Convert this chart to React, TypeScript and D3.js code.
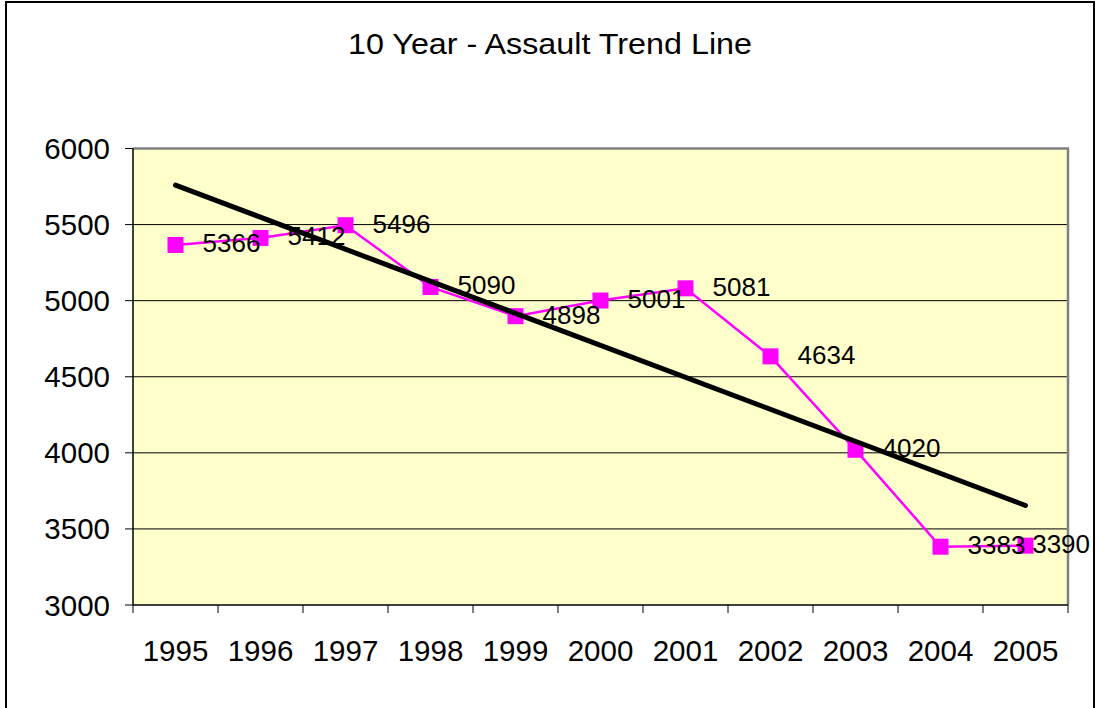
import React from "react";
import * as d3 from "d3";

const years = ["1995", "1996", "1997", "1998", "1999", "2000", "2001", "2002", "2003", "2004", "2005"];
const assaults = [5366, 5412, 5496, 5090, 4898, 5001, 5081, 4634, 4020, 3383, 3390];
const trendEnds = [5759, 3654];
const yTicks = [3000, 3500, 4000, 4500, 5000, 5500, 6000];
const title = "10 Year - Assault Trend Line";

const W = 1099;
const H = 708;
const plot = { left: 133, top: 148.5, right: 1068, bottom: 605 };
const FONT = "'Liberation Sans', Arial, sans-serif";

export default function App() {
  const x = d3.scaleBand<string>().domain(years).range([plot.left, plot.right]).paddingInner(0).paddingOuter(0);
  const y = d3.scaleLinear().domain([3000, 6000]).range([plot.bottom, plot.top]);
  const cx = (yr: string) => (x(yr) as number) + x.bandwidth() / 2;

  const line = d3
    .line<number>()
    .x((_, i) => cx(years[i]))
    .y((d) => y(d));

  const trendPts: [number, number][] = [
    [cx(years[0]), y(trendEnds[0])],
    [cx(years[years.length - 1]), y(trendEnds[1])],
  ];

  const labelFont = 26;
  const labelMaxRight = 1090;
  const boundaries = years.map((yr) => x(yr) as number).concat([plot.right]);
  const m = 16;

  return (
    <svg width={W} height={H} style={{ position: "absolute", left: 0, top: 0, display: "block" }} fontFamily={FONT}>
      <rect x={0} y={0} width={W} height={H} fill="#fff" />
      <rect x={6} y={2} width={1088} height={H + 20} fill="#fff" stroke="#000" strokeWidth={2} />
      <text x={550} y={54} textAnchor="middle" fontSize={30} textLength={404} lengthAdjust="spacingAndGlyphs" fill="#000">
        {title}
      </text>

      {/* plot area */}
      <rect x={plot.left} y={plot.top} width={plot.right - plot.left} height={plot.bottom - plot.top} fill="#FFFFCC" />
      {yTicks.slice(1, -1).map((t) => (
        <line key={t} x1={plot.left} x2={plot.right} y1={y(t)} y2={y(t)} stroke="#000" strokeWidth={1} />
      ))}
      <line x1={plot.left} x2={plot.right + 1} y1={plot.top} y2={plot.top} stroke="#808080" strokeWidth={2.5} />
      <line x1={plot.right} x2={plot.right} y1={plot.top} y2={plot.bottom} stroke="#808080" strokeWidth={2.5} />

      {/* y axis */}
      <line x1={plot.left} x2={plot.left} y1={plot.top} y2={plot.bottom} stroke="#000" strokeWidth={1.5} />
      {yTicks.map((t) => (
        <g key={t}>
          <line x1={plot.left - 8} x2={plot.left} y1={y(t)} y2={y(t)} stroke="#000" strokeWidth={1} />
          <text x={110} y={y(t) + 10.5} textAnchor="end" fontSize={29.5} fill="#000">
            {t}
          </text>
        </g>
      ))}

      {/* x axis */}
      <line x1={plot.left} x2={plot.right} y1={plot.bottom} y2={plot.bottom} stroke="#000" strokeWidth={1.5} />
      {boundaries.map((b, i) => (
        <line key={i} x1={b} x2={b} y1={plot.bottom} y2={plot.bottom + 8} stroke="#000" strokeWidth={1} />
      ))}
      {years.map((yr) => (
        <text key={yr} x={cx(yr)} y={661} textAnchor="middle" fontSize={29.5} fill="#000">
          {yr}
        </text>
      ))}

      {/* data series */}
      <path d={line(assaults) as string} fill="none" stroke="#FF00FF" strokeWidth={2.5} />
      {assaults.map((v, i) => (
        <rect key={i} x={cx(years[i]) - m / 2} y={y(v) - m / 2} width={m} height={m} fill="#FF00FF" />
      ))}

      {/* trend line */}
      <path d={d3.line()(trendPts) as string} stroke="#000" strokeWidth={5} strokeLinecap="round" fill="none" />

      {/* data labels */}
      {assaults.map((v, i) => {
        const w = String(v).length * 0.556 * labelFont;
        let lx = cx(years[i]) + 27;
        if (lx + w > labelMaxRight) lx = labelMaxRight - w;
        return (
          <text key={i} x={lx} y={y(v) + 7.5} fontSize={labelFont} fill="#000">
            {v}
          </text>
        );
      })}
    </svg>
  );
}
